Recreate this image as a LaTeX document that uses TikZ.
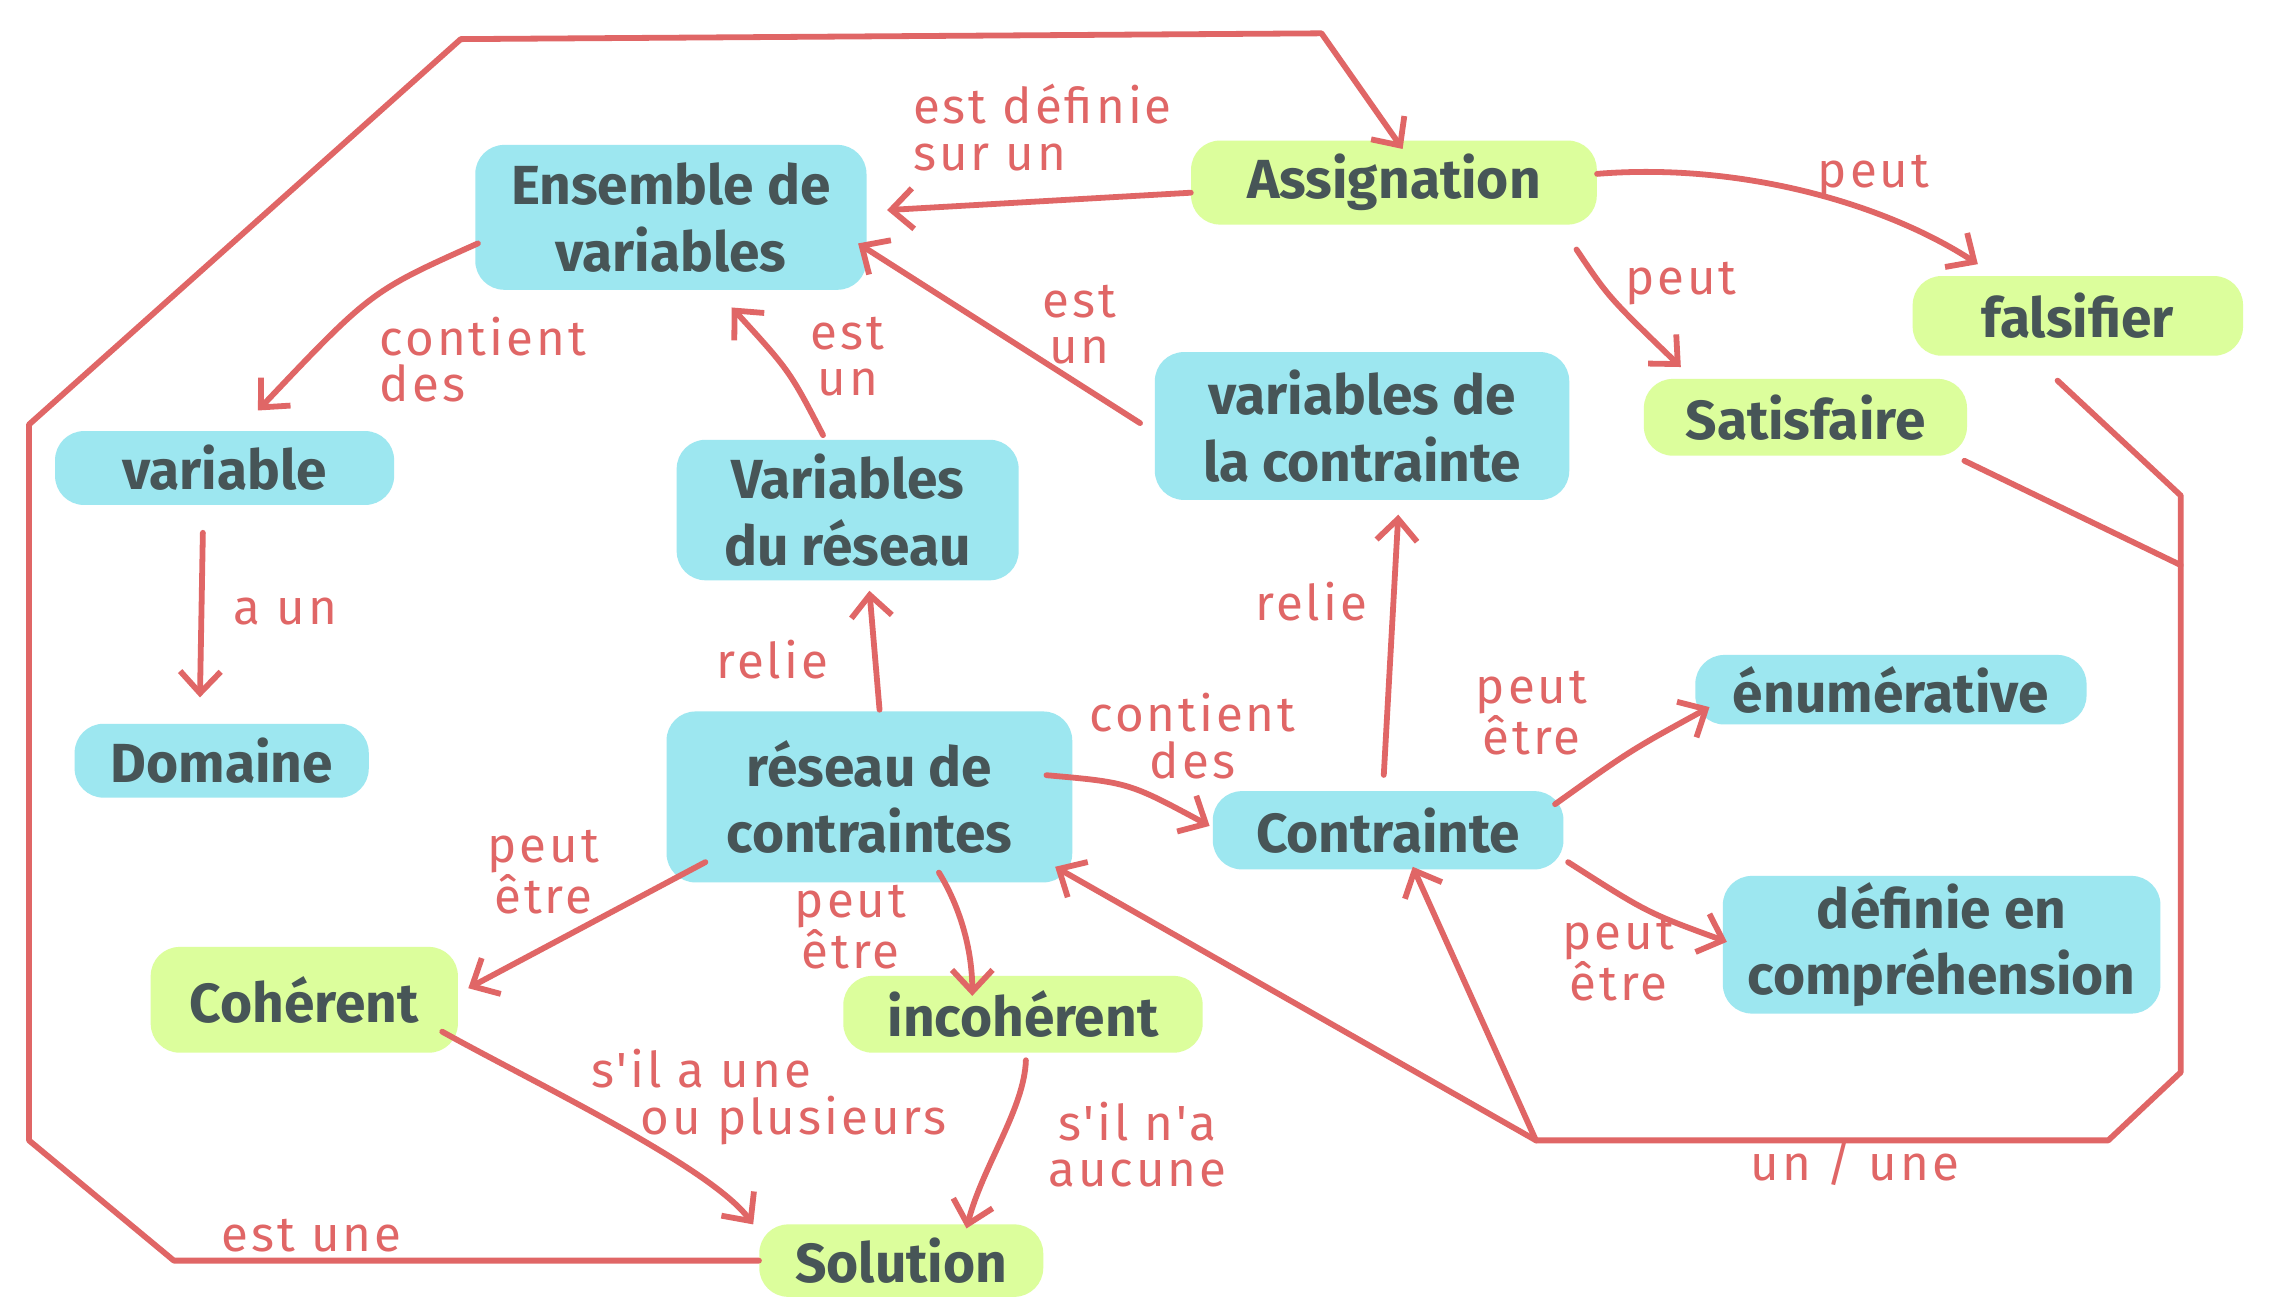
\documentclass[tikz,border=0pt]{standalone}
\usepackage{fontspec}
\setmainfont{Fira Sans}
\newfontfamily\labfont[LetterSpace=6]{Fira Sans}
\usetikzlibrary{arrows.meta,calc}
\definecolor{lred}{HTML}{E06666}
\definecolor{cblue}{HTML}{9DE7F0}
\definecolor{cgreen}{HTML}{DCFE9C}
\definecolor{tgray}{HTML}{475557}
\begin{document}
\begin{tikzpicture}[x=1pt,y=-1pt,
  concept/.style={rounded corners=20pt, text=tgray, font=\fontsize{38}{46}\selectfont\bfseries, align=center, inner sep=0pt},
  bluebox/.style={concept, fill=cblue},
  greenbox/.style={concept, fill=cgreen},
  lnk/.style={draw=lred, line width=4pt, line cap=round, line join=round},
  arr/.style={lnk, -{Straight Barb[length=15pt,width=28pt]}},
  lab/.style={text=lred, font=\labfont\fontsize{34}{32}\selectfont, align=center, inner sep=0pt}]
\fill[white] (0,0) rectangle (1568,904);
\useasboundingbox (0,0) rectangle (1568,904);

% nodes
\node[bluebox, minimum width=270pt, minimum height=100pt] (ens) at (463,150) {Ensemble de\\variables};
\node[greenbox, minimum width=280pt, minimum height=58pt] (assign) at (962,126) {Assignation};
\node[greenbox, minimum width=228pt, minimum height=55pt] (fals) at (1434,218) {falsifier};
\node[greenbox, minimum width=223pt, minimum height=53pt] (satis) at (1246,288) {Satisfaire};
\node[bluebox, minimum width=286pt, minimum height=102pt] (varc) at (940,294) {variables de\\la contrainte};
\node[bluebox, minimum width=234pt, minimum height=51pt] (var) at (155,323) {variable};
\node[bluebox, minimum width=236pt, minimum height=97pt] (varr) at (585,352) {Variables\\du réseau};
\node[bluebox, minimum width=203pt, minimum height=51pt] (dom) at (153,525) {Domaine};
\node[bluebox, minimum width=280pt, minimum height=118pt] (res) at (600,550) {réseau de\\contraintes};
\node[bluebox, minimum width=242pt, minimum height=54pt] (contr) at (958,573) {Contrainte};
\node[bluebox, minimum width=270pt, minimum height=48pt] (enum) at (1305,476) {énumérative};
\node[bluebox, minimum width=302pt, minimum height=95pt] (def) at (1340,652) {définie en\\compréhension};
\node[greenbox, minimum width=212pt, minimum height=73pt] (coh) at (210,690) {Cohérent};
\node[greenbox, minimum width=248pt, minimum height=53pt] (incoh) at (706,700) {incohérent};
\node[greenbox, minimum width=196pt, minimum height=50pt] (sol) at (622,870) {Solution};

% connectors
\draw[arr] ([shift={(0,7)}]assign.west) -- ([shift={(14,-5)}]ens.east);
\draw[arr] ([shift={(2,18)}]ens.west) .. controls (256,201) .. ([shift={(23,-14)}]var.north);
\draw[arr] ([shift={(-15,19)}]var.south) -- ([shift={(-15,-18)}]dom.north);
\draw[arr] ([shift={(-17,-3)}]varr.north) .. controls (545,256) .. ([shift={(42,12)}]ens.south);
\draw[arr] ([shift={(-10,-2)}]varc.west) -- ([shift={(-6,18)}]ens.east);
\draw[arr] ([shift={(7,-1)}]res.north) -- ([shift={(15,7)}]varr.south);
\draw[arr] ([shift={(-3,-11)}]contr.north) -- ([shift={(25,10)}]varc.south);
\draw[arr] ([shift={(-18,-15)}]res.east) .. controls (779,540) .. ([shift={(-2,-3)}]contr.west);
\draw[arr] ([shift={(27,45)}]res.west) -- ([shift={(7,-8)}]coh.east);
\draw[arr] ([shift={(48,-7)}]res.south) .. controls (665,630) and (671,660) .. ([shift={(-35,14)}]incoh.north);
\draw[arr] ([shift={(-11,22)}]coh.east) .. controls (370,748) and (490,805) .. ([shift={(-4,-25)}]sol.west);
\draw[arr] ([shift={(2,5)}]incoh.south) .. controls (707,765) and (678,805) .. ([shift={(45,3)}]sol.north);
\draw[arr] ([shift={(-6,-18)}]contr.east) .. controls (1125,518) .. ([shift={(10,12)}]enum.west);
\draw[arr] ([shift={(3,22)}]contr.east) .. controls (1137,630) .. ([shift={(3,-2)}]def.west);
\draw[arr] ([shift={(0,-6)}]assign.east) .. controls (1200,112) and (1300,140) .. ([shift={(-69,-8)}]fals.north);
\draw[arr] ([shift={(126,17)}]assign.south) .. controls (1110,205) .. ([shift={(-86,-8)}]satis.north);
\draw[arr] (sol.west) -- (120,870) -- (20,787) -- (20,293) -- (318,27) -- (912,23) -- ([shift={(6,6)}]assign.north);

\coordinate (hub) at (1060,787);
\draw[lnk] ([shift={(-14,17)}]fals.south) -- (1505,342) -- (1505,740) -- (1455,787) -- (hub);
\draw[lnk] ([shift={(-2,30)}]satis.east) -- (1505,390);
\draw[arr] (hub) -- ([shift={(-12,-11)}]res.south east);
\draw[arr] (hub) -- ([shift={(17,-2)}]contr.south);

% labels
\node[lab, anchor=west, align=left] (l1) at (630,88) {est définie\\sur un};
\node[lab, anchor=west, align=left] (l2) at (262,248) {contient\\des};
\node[lab] (l3) at (197,422) {a un};
\node[lab] (l4) at (585,246) {est\\un};
\node[lab] (l5) at (745,224) {est\\un};
\node[lab] (l6) at (533,455) {relie};
\node[lab] (l7) at (905,415) {relie};
\node[lab] (l8) at (823,508) {contient\\des};
\node[lab] (l9) at (375,602) {peut\\être};
\node[lab] (l10) at (587,640) {peut\\être};
\node[lab, anchor=west, align=left] (l11) at (408,757) {s'il a une\\\hspace*{34pt}ou plusieurs};
\node[lab] (l12) at (785,790) {s'il n'a\\aucune};
\node[lab] (l13) at (1057,492) {peut\\être};
\node[lab] (l14) at (1117,662) {peut\\être};
\node[lab] (l15) at (1293,122) {peut};
\node[lab] (l16) at (1160,196) {peut};
\node[lab] (l17) at (215,853) {est une};
\node[lab] (l18) at (1280,803) {un / une};
\end{tikzpicture}
\end{document}
